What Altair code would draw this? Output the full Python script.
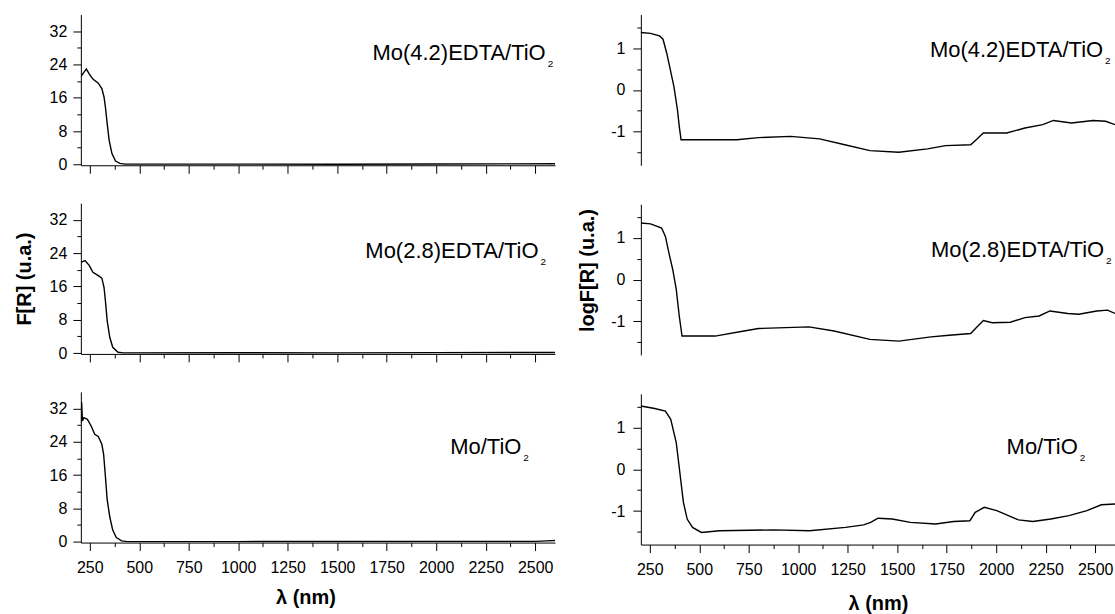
import altair as alt
import pandas as pd

# ---------------- data ----------------
X_DOMAIN = [205, 2600]
X_TICKS = list(range(250, 2600, 125))
F_TICKS = [0, 4, 8, 12, 16, 20, 24, 28, 32]
LOG_TICKS = [-1.5, -1.0, -0.5, 0.0, 0.5, 1.0, 1.5]

# F[R] curves
f42_x = [205, 220, 233, 248, 266, 293, 311, 322, 329, 338, 348, 362, 380, 402, 430, 600, 1000, 1500, 2000, 2600]
f42_y = [21.1, 22.1, 22.9, 21.7, 20.5, 19.5, 18.2, 16.2, 13.8, 9.8, 5.8, 2.6, 0.8, 0.24, 0.07, 0.07, 0.07, 0.04, 0.1, 0.15]

f28_x = [205, 226, 248, 266, 293, 311, 322, 329, 338, 351, 366, 393, 420, 1000, 1500, 2000, 2600]
f28_y = [21.8, 22.2, 21.0, 19.4, 18.6, 18.0, 15.8, 12.6, 7.8, 3.8, 1.4, 0.2, 0.05, 0.07, 0.04, 0.1, 0.15]

f0_x = [205, 209, 213, 220, 238, 257, 275, 293, 311, 320, 329, 338, 351, 366, 384, 411, 440, 1000, 1500, 2000, 2500, 2560, 2600]
f0_y = [28.5, 33.5, 29.0, 29.8, 29.4, 27.8, 25.8, 25.3, 23.4, 21.0, 15.7, 10.1, 6.0, 2.8, 1.0, 0.2, 0.04, 0.04, 0.05, 0.1, 0.1, 0.2, 0.3]

# logF[R] curves
l42_x = [205, 254, 299, 317, 336, 354, 372, 390, 399, 408, 508, 690, 799, 962, 1108, 1235, 1362, 1508,
         1653, 1744, 1871, 1899, 1935, 2053, 2145, 2235, 2289, 2380, 2489, 2553, 2600]
l42_y = [1.37, 1.35, 1.29, 1.21, 0.87, 0.48, 0.08, -0.48, -0.87, -1.19, -1.19, -1.19, -1.14, -1.11, -1.17, -1.31,
         -1.45, -1.49, -1.41, -1.33, -1.31, -1.19, -1.03, -1.03, -0.91, -0.83, -0.73, -0.79, -0.73, -0.75, -0.83]

l28_x = [205, 254, 310, 329, 347, 366, 384, 399, 413, 580, 726, 799, 1054, 1181, 1362, 1508, 1671, 1762,
         1871, 1899, 1935, 1980, 2071, 2145, 2217, 2271, 2362, 2417, 2508, 2562, 2600]
l28_y = [1.35, 1.33, 1.23, 1.03, 0.63, 0.24, -0.24, -0.87, -1.35, -1.35, -1.23, -1.17, -1.13, -1.23, -1.43,
         -1.47, -1.37, -1.33, -1.29, -1.15, -0.98, -1.03, -1.02, -0.91, -0.87, -0.75, -0.81, -0.83, -0.75, -0.73, -0.81]

l0_x = [205, 275, 329, 356, 384, 402, 420, 439, 466, 511, 602, 875, 1057, 1239, 1330, 1366, 1403, 1475,
        1566, 1694, 1785, 1867, 1894, 1940, 2003, 2112, 2185, 2276, 2367, 2458, 2531, 2600]
l0_y = [1.51, 1.45, 1.39, 1.19, 0.63, -0.08, -0.79, -1.19, -1.39, -1.51, -1.47, -1.45, -1.47, -1.39, -1.33,
        -1.27, -1.17, -1.19, -1.27, -1.31, -1.25, -1.23, -1.03, -0.91, -0.99, -1.21, -1.25, -1.19, -1.11, -0.99, -0.85, -0.83]

# sample labels: text, x (nm) of right end, y (data units) of baseline
labels_text = ["Mo(4.2)EDTA/TiO", "Mo(2.8)EDTA/TiO", "Mo/TiO"]
labels_left_x = [2553, 2517, 2430]
labels_left_y = [25.0, 22.8, 21.1]
labels_right_x = [2540, 2545, 2412]
labels_right_y = [0.78, 0.55, 0.36]
SUB = "2"

FONT = "Liberation Sans, Arial, sans-serif"

xscale = alt.Scale(domain=X_DOMAIN, nice=False, zero=False)
fscale = alt.Scale(domain=[-0.2, 36], nice=False, zero=False)
lscale = alt.Scale(domain=[-1.8, 1.8], nice=False, zero=False)

W, H = 475, 151


def x_axis(show_labels, title=None, title_x=None, title_pad=14):
    kw = dict(
        values=X_TICKS,
        labels=show_labels,
        labelExpr="datum.value % 250 === 0 ? '' + datum.value : ''",
        tickSize={"condition": {"test": "datum.value % 250 === 0", "value": 8}, "value": 4},
        labelPadding=9,
        labelOverlap=False,
        labelFlush=False,
        title=title,
        titlePadding=title_pad,
    )
    if title_x is not None:
        kw["titleX"] = title_x
    return alt.Axis(**kw)


def f_axis(title=None):
    return alt.Axis(
        values=F_TICKS,
        labelExpr="datum.value % 8 === 0 ? '' + datum.value : ''",
        tickSize={"condition": {"test": "datum.value % 8 === 0", "value": 8}, "value": 4},
        labelPadding=6,
        labelOverlap=False,
        labelFlush=False,
        title=title,
        titlePadding=15,
    )


def l_axis(title=None, title_y=None):
    kw = dict(
        values=LOG_TICKS,
        labelExpr="datum.value % 1 === 0 ? '' + datum.value : ''",
        tickSize={"condition": {"test": "datum.value % 1 === 0", "value": 8}, "value": 4},
        labelPadding=8,
        labelOverlap=False,
        labelFlush=False,
        title=title,
        titlePadding=13,
    )
    if title_y is not None:
        kw["titleY"] = title_y
    return alt.Axis(**kw)


def panel(xs, ys, yscale, yaxis, xaxis, lab_text, lab_x, lab_y):
    df = pd.DataFrame({"lam": xs, "v": ys})
    xenc = alt.X("lam:Q", scale=xscale, axis=xaxis)
    yenc = alt.Y("v:Q", scale=yscale, axis=yaxis)
    line = alt.Chart(df).mark_line(color="black", strokeWidth=1.4, clip=True).encode(x=xenc, y=yenc)
    ldf = pd.DataFrame({"lam": [lab_x], "v": [lab_y], "t": [lab_text], "s": [SUB]})
    txt = alt.Chart(ldf).mark_text(
        align="right", baseline="alphabetic", font=FONT, fontSize=22, color="black"
    ).encode(x=xenc, y=yenc, text="t:N")
    sub = alt.Chart(ldf).mark_text(
        align="left", baseline="alphabetic", font=FONT, fontSize=10, color="black", dx=2, dy=7
    ).encode(x=xenc, y=yenc, text="s:N")
    return alt.layer(line, txt, sub).properties(width=W, height=H)


L1 = panel(f42_x, f42_y, fscale, f_axis(), x_axis(False), labels_text[0], labels_left_x[0], labels_left_y[0])
L2 = panel(f28_x, f28_y, fscale, f_axis("F[R] (u.a.)"), x_axis(False), labels_text[1], labels_left_x[1], labels_left_y[1])
L3 = panel(f0_x, f0_y, fscale, f_axis(), x_axis(True, "λ (nm)", title_x=225, title_pad=12),
           labels_text[2], labels_left_x[2], labels_left_y[2])

R1 = panel(l42_x, l42_y, lscale, l_axis(), None, labels_text[0], labels_right_x[0], labels_right_y[0])
R2 = panel(l28_x, l28_y, lscale, l_axis("logF[R] (u.a.)", title_y=66), None,
           labels_text[1], labels_right_x[1], labels_right_y[1])
R3 = panel(l0_x, l0_y, lscale, l_axis(), x_axis(True, "λ (nm)", title_pad=16),
           labels_text[2], labels_right_x[2], labels_right_y[2])

left = alt.vconcat(L1, L2, L3, spacing=29)
right = alt.vconcat(R1, R2, R3, spacing=39)

chart = (
    alt.hconcat(left, right, spacing=22)
    .properties(padding={"left": 14, "top": 14, "right": 0, "bottom": 0}, background="white")
    .configure_view(stroke=None)
    .configure_axis(
        grid=False,
        domainColor="black",
        domainWidth=1,
        tickColor="black",
        tickWidth=1,
        labelColor="black",
        labelFont=FONT,
        labelFontSize=16,
        labelOverlap=False,
        titleColor="black",
        titleFont=FONT,
        titleFontSize=20,
        titleFontWeight="bold",
    )
)

chart.save("out.html", embed_options={"renderer": "svg", "actions": False})
